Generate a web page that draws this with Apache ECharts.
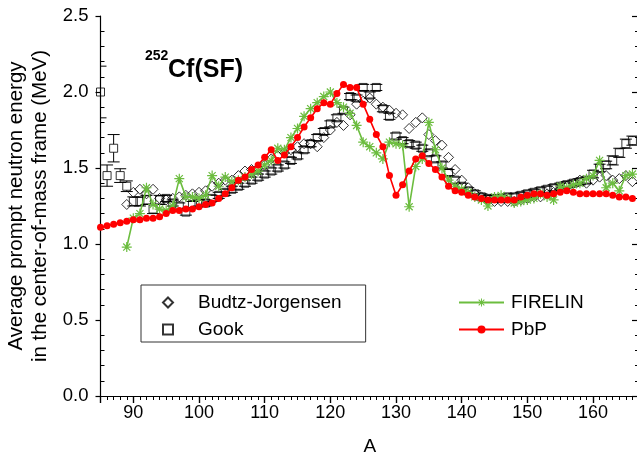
<!DOCTYPE html>
<html>
<head>
<meta charset="utf-8">
<script src="https://cdn.jsdelivr.net/npm/echarts@6/dist/echarts.min.js"></script>
<style>
  html, body { margin: 0; padding: 0; background: #fff; }
  #chart { width: 637px; height: 458px; }
</style>
</head>
<body>
<div id="chart"></div>
<script>
// Mass numbers and energies (MeV) for each data set
const pbpMass = [85,86,87,88,89,90,91,92,93,94,95,96,97,98,99,100,101,102,103,104,105,106,107,108,109,110,111,112,113,114,115,116,117,118,119,120,121,122,123,124,125,126,127,128,129,130,131,132,133,134,135,136,137,138,139,140,141,142,143,144,145,146,147,148,149,150,151,152,153,154,155,156,157,158,159,160,161,162,163,164,165,166];
const pbpEnergy = [1.11,1.12,1.13,1.14,1.15,1.16,1.16,1.17,1.17,1.18,
  1.20,1.22,1.22,1.23,1.23,1.245,1.26,1.27,1.30,1.33,
  1.37,1.42,1.44,1.49,1.52,1.57,1.62,1.55,1.585,1.64,
  1.70,1.77,1.83,1.89,1.93,1.92,1.99,2.05,2.03,2.03,
  1.92,1.82,1.72,1.64,1.45,1.32,1.39,1.48,1.56,1.58,
  1.53,1.49,1.44,1.38,1.35,1.34,1.32,1.31,1.30,1.29,
  1.29,1.29,1.29,1.29,1.31,1.32,1.33,1.33,1.32,1.33,
  1.34,1.35,1.34,1.33,1.33,1.33,1.33,1.33,1.32,1.31,
  1.31,1.30];

const firelinMass = [89,90,91,92,93,94,95,96,97,98,99,100,101,102,103,104,105,106,107,108,109,110,111,112,113,114,115,116,117,118,119,120,121,122,123,124,125,126,127,128,129,130,131,132,133,134,135,136,137,138,139,140,141,142,143,144,145,146,147,148,149,150,151,152,153,154,155,156,157,158,159,160,161,162,163,164,165,166];
const firelinEnergy = [0.98,1.17,1.20,1.37,1.26,1.23,1.22,1.25,1.43,1.31,
  1.31,1.30,1.32,1.45,1.38,1.44,1.41,1.42,1.44,1.46,
  1.48,1.52,1.55,1.63,1.62,1.70,1.76,1.84,1.89,1.93,
  1.97,2.00,1.93,1.90,1.86,1.78,1.67,1.64,1.60,1.56,
  1.67,1.66,1.65,1.245,1.51,1.56,1.80,1.62,1.50,1.42,
  1.38,1.36,1.34,1.31,1.29,1.25,1.31,1.32,1.30,1.27,
  1.28,1.29,1.30,1.33,1.31,1.29,1.38,1.37,1.39,1.40,
  1.43,1.45,1.55,1.37,1.40,1.35,1.45,1.46];

const budtzMass = [89,90,91,92,93,94,95,96,97,98,99,100,101,102,103,104,105,106,107,108,109,110,111,112,113,114,115,116,117,118,119,120,121,122,123,124,125,126,127,128,129,130,131,132,133,134,135,136,137,138,139,140,141,142,143,144,145,146,147,148,149,150,151,152,153,154,155,156,157,158,159,160,161,162,163,164,165,166];
const budtzEnergy = [1.26,1.34,1.36,1.33,1.36,1.30,1.29,1.30,1.31,1.32,
  1.33,1.34,1.35,1.38,1.40,1.42,1.42,1.45,1.48,1.49,
  1.50,1.52,1.56,1.58,1.60,1.62,1.64,1.66,1.66,1.64,
  1.70,1.75,1.80,1.78,1.85,1.92,1.94,1.96,1.92,1.90,
  1.88,1.86,1.85,1.76,1.80,1.83,1.72,1.68,1.65,1.57,
  1.49,1.42,1.37,1.33,1.31,1.29,1.28,1.28,1.28,1.28,
  1.29,1.30,1.31,1.31,1.33,1.34,1.36,1.38,1.40,1.42,
  1.40,1.42,1.44,1.45,1.42,1.43,1.45,1.41];

const gookMass = [85,86,87,88,89,90,91,92,93,94,95,96,97,98,99,100,101,102,103,104,105,106,107,108,109,110,111,112,113,114,115,116,117,118,119,120,121,122,123,124,125,126,127,128,129,130,131,132,133,134,135,136,137,138,139,140,141,142,143,144,145,146,147,148,149,150,151,152,153,154,155,156,157,158,159,160,161,162,163,164,165,166];
const gookEnergy = [2.00,1.45,1.63,1.45,1.38,1.28,1.28,1.29,1.23,1.29,
  1.30,1.27,1.25,1.21,1.26,1.27,1.27,1.30,1.32,1.34,
  1.36,1.38,1.40,1.42,1.44,1.46,1.48,1.50,1.52,1.55,
  1.58,1.62,1.66,1.70,1.74,1.79,1.83,1.88,1.97,1.96,
  2.03,1.98,2.03,1.89,1.84,1.71,1.68,1.66,1.65,1.63,
  1.60,1.56,1.52,1.47,1.42,1.38,1.35,1.33,1.31,1.30,
  1.30,1.30,1.31,1.31,1.32,1.33,1.34,1.35,1.36,1.37,
  1.38,1.39,1.40,1.41,1.42,1.46,1.50,1.52,1.55,1.60,
  1.66,1.68];
const gookError = [0.17,0.07,0.09,0.045,0.035,0.03,0.03,0.03,0.03,0.03,
  0.02,0.02,0.02,0.02,0.02,0.02,0.02,0.02,0.02,0.02,
  0.02,0.02,0.02,0.02,0.02,0.02,0.02,0.02,0.02,0.02,
  0.02,0.02,0.02,0.02,0.02,0.02,0.02,0.02,0.02,0.02,
  0.02,0.02,0.02,0.02,0.02,0.02,0.02,0.02,0.02,0.02,
  0.02,0.02,0.02,0.02,0.02,0.02,0.02,0.02,0.02,0.02,
  0.02,0.02,0.02,0.02,0.02,0.02,0.02,0.02,0.02,0.02,
  0.02,0.02,0.02,0.02,0.02,0.025,0.025,0.025,0.03,0.03,
  0.03,0.03];

const yTicks = ['0.0', '0.5', '1.0', '1.5', '2.0', '2.5'];

const zip = (xs, ys) => xs.map((x, i) => [x, ys[i]]);

const GREEN = '#6cbd3f';
const RED = '#ff0000';
const FONT = 'Arial, "Liberation Sans", sans-serif';

// eight-armed asterisk marker
const ASTERISK = 'path://M-0.6,-5L0.6,-5L0.6,-0.6L5,-0.6L5,0.6L0.6,0.6L0.6,5L-0.6,5L-0.6,0.6L-5,0.6L-5,-0.6L-0.6,-0.6Z' +
  'M-3.96,-3.11L-3.11,-3.96L3.96,3.11L3.11,3.96Z' +
  'M3.11,-3.96L3.96,-3.11L-3.11,3.96L-3.96,3.11Z';

const chart = echarts.init(document.getElementById('chart'), null, { renderer: 'canvas' });

const xCommon = { type: 'value', min: 85, max: 167, splitNumber: 8, splitLine: { show: false } };
const yCommon = { type: 'value', min: 0, max: 2.5, interval: 0.5, splitLine: { show: false } };
const axisLine = { show: true, lineStyle: { color: '#000', width: 1.2 } };

const option = {
  animation: false,
  backgroundColor: '#fff',
  grid: { left: 100.5, top: 16, width: 538.5, height: 380, containLabel: false, outerBoundsMode: 'none' },
  graphic: [
    {
      type: 'text', left: 145, top: 49,
      style: { text: '252', font: 'bold 14px ' + FONT, fill: '#000' }
    },
    {
      type: 'text', left: 168, top: 58,
      style: { text: 'Cf(SF)', font: 'bold 25px ' + FONT, fill: '#000' }
    }
  ],
  xAxis: [
    Object.assign({}, xCommon, {
      position: 'bottom',
      name: 'A', nameLocation: 'middle', nameGap: 41,
      nameTextStyle: { fontFamily: FONT, fontSize: 19, color: '#000' },
      axisLine: axisLine,
      axisTick: { show: true, inside: false, length: 7, lineStyle: { color: '#000', width: 1.2 } },
      minorTick: { show: true, splitNumber: 10, length: 4, lineStyle: { color: '#000', width: 1 } },
      axisLabel: { fontFamily: FONT, fontSize: 18, color: '#000', margin: 8, showMinLabel: false, showMaxLabel: false,
        formatter: v => (v % 10 === 0 ? String(v) : '') }
    }),
    Object.assign({}, xCommon, {
      position: 'top',
      axisLine: axisLine,
      axisTick: { show: true, inside: true, length: 7, lineStyle: { color: '#000', width: 1.2 } },
      minorTick: { show: true, splitNumber: 10, length: 4, lineStyle: { color: '#000', width: 1 } },
      axisLabel: { show: false }
    })
  ],
  yAxis: [
    Object.assign({}, yCommon, {
      position: 'left',
      name: 'Average prompt neutron energy\nin the center-of-mass frame (MeV)',
      nameLocation: 'middle', nameGap: 47, nameRotate: 90,
      nameTextStyle: { fontFamily: FONT, fontSize: 20.5, color: '#000', lineHeight: 24, align: 'center' },
      axisLine: axisLine,
      axisTick: { show: true, inside: false, length: 5, lineStyle: { color: '#000', width: 1.2 } },
      axisLabel: { fontFamily: FONT, fontSize: 18.5, color: '#000', margin: 12,
        formatter: v => yTicks[Math.round(v / 0.5)] }
    }),
    Object.assign({}, yCommon, {
      position: 'left',
      axisLine: { show: false },
      axisTick: { show: false, inside: true },
      minorTick: { show: true, splitNumber: 5, length: 4, lineStyle: { color: '#000', width: 1 } },
      axisLabel: { show: false }
    }),
    Object.assign({}, yCommon, {
      position: 'right',
      axisLine: axisLine,
      axisTick: { show: true, inside: true, length: 7, lineStyle: { color: '#000', width: 1.2 } },
      minorTick: { show: true, splitNumber: 5, length: 4, lineStyle: { color: '#000', width: 1 } },
      axisLabel: { show: false }
    })
  ],
  legend: [
    {
      left: 141, top: 285, orient: 'vertical',
      data: ['Budtz-Jorgensen', 'Gook'],
      borderColor: '#333', borderWidth: 1, borderRadius: 0,
      padding: [8, 24, 3, 21],
      itemWidth: 10, itemHeight: 10, itemGap: 8,
      textStyle: { fontFamily: FONT, fontSize: 19, color: '#000', lineHeight: 18, padding: [0, 0, 0, 20] }
    },
    {
      left: 458, top: 293, orient: 'vertical',
      data: ['FIRELIN', 'PbP'],
      padding: 0,
      itemWidth: 45, itemHeight: 10, itemGap: 8,
      textStyle: { fontFamily: FONT, fontSize: 19, color: '#000', lineHeight: 18, padding: [0, 0, 0, 2] }
    }
  ],
  series: [
    {
      name: 'GookErr',
      type: 'custom',
      xAxisIndex: 0, yAxisIndex: 0,
      data: gookMass.map((a, i) => [a, gookEnergy[i], gookError[i]]),
      clip: true,
      silent: true,
      z: 2,
      renderItem: (params, api) => {
        const a = api.value(0), e = api.value(1), d = api.value(2);
        const c = api.coord([a, e]);
        const hi = api.coord([a, e + d]);
        const lo = api.coord([a, e - d]);
        const half = 6, gap = 4;
        const st = { stroke: '#000', lineWidth: 1 };
        const kids = [
          { type: 'line', shape: { x1: hi[0] - half, y1: hi[1], x2: hi[0] + half, y2: hi[1] }, style: st },
          { type: 'line', shape: { x1: lo[0] - half, y1: lo[1], x2: lo[0] + half, y2: lo[1] }, style: st }
        ];
        if (c[1] - hi[1] > gap) kids.push({ type: 'line', shape: { x1: c[0], y1: hi[1], x2: c[0], y2: c[1] - gap }, style: st });
        if (lo[1] - c[1] > gap) kids.push({ type: 'line', shape: { x1: c[0], y1: c[1] + gap, x2: c[0], y2: lo[1] }, style: st });
        return { type: 'group', children: kids };
      }
    },
    {
      name: 'Gook',
      type: 'scatter',
      xAxisIndex: 0, yAxisIndex: 0,
      data: zip(gookMass, gookEnergy),
      symbol: 'rect', symbolSize: 8,
      itemStyle: { color: 'rgba(255,255,255,0)', borderColor: '#000', borderWidth: 1 },
      z: 3
    },
    {
      name: 'Budtz-Jorgensen',
      type: 'scatter',
      xAxisIndex: 0, yAxisIndex: 0,
      data: zip(budtzMass, budtzEnergy),
      symbol: 'diamond', symbolSize: 10,
      itemStyle: { color: 'rgba(255,255,255,0)', borderColor: '#000', borderWidth: 1 },
      z: 3
    },
    {
      name: 'FIRELIN',
      type: 'line',
      xAxisIndex: 0, yAxisIndex: 0,
      data: zip(firelinMass, firelinEnergy),
      symbol: ASTERISK, symbolSize: 10, showAllSymbol: true,
      lineStyle: { color: GREEN, width: 1.6 },
      itemStyle: { color: GREEN },
      z: 4
    },
    {
      name: 'PbP',
      type: 'line',
      xAxisIndex: 0, yAxisIndex: 0,
      data: zip(pbpMass, pbpEnergy),
      symbol: 'circle', symbolSize: 7, showAllSymbol: true,
      lineStyle: { color: RED, width: 1.6 },
      itemStyle: { color: RED },
      z: 5
    }
  ]
};

chart.setOption(option);
</script>
</body>
</html>
